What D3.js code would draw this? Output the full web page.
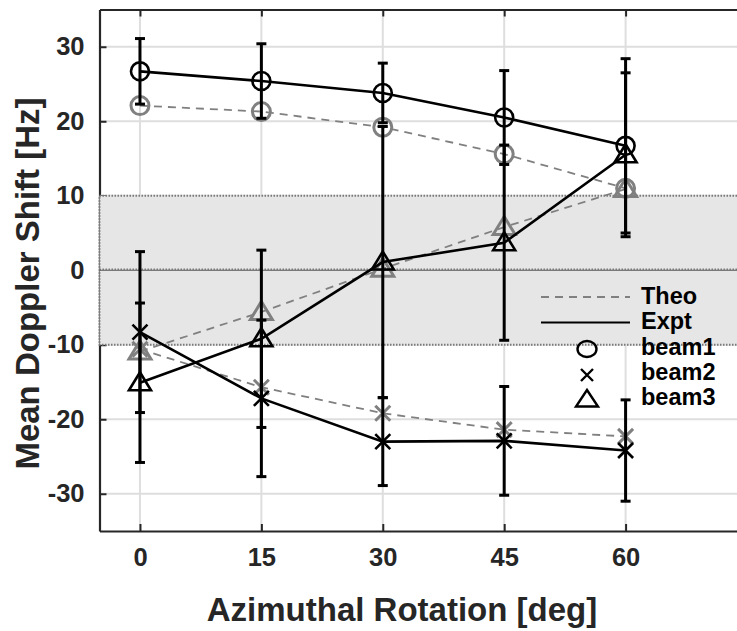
<!DOCTYPE html>
<html><head><meta charset="utf-8">
<script src="https://cdn.jsdelivr.net/npm/d3@7"></script>
<style>body{margin:0;background:#fff}svg{display:block}text{font-family:"Liberation Sans",Arial,Helvetica,sans-serif;font-weight:bold}</style>
</head><body>
<script>
const angles = [0, 15, 30, 45, 60];
const xTicks = [0, 15, 30, 45, 60];
const yTicks = [-30, -20, -10, 0, 10, 20, 30];
const beam1Expt = [26.7, 25.4, 23.8, 20.5, 16.7];
const beam1Err  = [4.4, 5.0, 4.0, 6.3, 11.7];
const beam2Expt = [-8.3, -17.2, -23.0, -22.9, -24.2];
const beam2Err  = [10.8, 10.5, 5.9, 7.3, 6.8];
const beam3Expt = [-15.1, -9.2, 1.1, 3.7, 15.5];
const beam3Err  = [10.7, 11.9, 18.2, 13.1, 11.0];
const beam1Theo = [22.1, 21.3, 19.2, 15.6, 11.0];
const beam2Theo = [-10.6, -15.7, -19.2, -21.4, -22.3];
const beam3Theo = [-10.9, -5.6, 0.2, 5.8, 10.9];
const bandRange = [-10, 10];
const legendLabels = ["Theo", "Expt", "beam1", "beam2", "beam3"];

const W = 737, H = 631;
const svg = d3.select("body").append("svg").attr("width", W).attr("height", H);
const x = d3.scaleLinear().domain([-5, 75]).range([99.5, 747]);
const y = d3.scaleLinear().domain([-35, 35]).range([531, 9.5]);
const axisCol = "#262626", gray = "#808080";

// gridlines
const grid = svg.append("g");
grid.selectAll(".gx").data(xTicks).join("line")
  .attr("x1", d => x(d)).attr("x2", d => x(d)).attr("y1", y(35)).attr("y2", y(-35))
  .attr("stroke", "#dedede").attr("stroke-width", 2);
grid.selectAll(".gy").data(yTicks).join("line")
  .attr("x1", x(-5)).attr("x2", x(75)).attr("y1", d => y(d)).attr("y2", d => y(d))
  .attr("stroke", "#dedede").attr("stroke-width", 2);

// axes
const fmt = d => String(d);
const yAxis = svg.append("g").attr("transform", `translate(${x(-5)},0)`)
  .call(d3.axisLeft(y).tickValues(yTicks).tickFormat(fmt).tickSizeInner(-7).tickSizeOuter(0).tickPadding(15));
const xAxis = svg.append("g").attr("transform", `translate(0,${y(-35)})`)
  .call(d3.axisBottom(x).tickValues(xTicks).tickFormat(fmt).tickSizeInner(-7).tickSizeOuter(0).tickPadding(17));
const tAxis = svg.append("g").attr("transform", `translate(0,${y(35)})`)
  .call(d3.axisTop(x).tickValues(xTicks).tickSizeInner(-7).tickSizeOuter(0).tickFormat(""));
[yAxis, xAxis, tAxis].forEach(g => {
  g.select(".domain").attr("stroke", axisCol).attr("stroke-width", 2.2);
  g.selectAll(".tick line").attr("stroke", axisCol).attr("stroke-width", 2);
  g.selectAll("text").attr("fill", axisCol).attr("font-size", 25.5)
    .attr("font-family", '"Liberation Sans",Arial,sans-serif').attr("font-weight", "bold");
});

// band
svg.append("rect").attr("x", x(-5)).attr("y", y(bandRange[1]))
  .attr("width", x(75) - x(-5)).attr("height", y(bandRange[0]) - y(bandRange[1]))
  .attr("fill", "#e6e6e6").attr("stroke", "#7a7a7a").attr("stroke-width", 2)
  .attr("stroke-dasharray", "1.5,1.5");
svg.append("line").attr("x1", x(-5)).attr("x2", x(75)).attr("y1", y(0)).attr("y2", y(0))
  .attr("stroke", "#555").attr("stroke-width", 1.2);
svg.append("line").attr("x1", x(-5)).attr("x2", x(75)).attr("y1", y(0) - 1).attr("y2", y(0) - 1)
  .attr("stroke", "#7a7a7a").attr("stroke-width", 1.5).attr("stroke-dasharray", "1.5,1.5");

// marker drawers
function circ(g, cx, cy, col, sw, rx = 9, ry = 9) {
  g.append("ellipse").attr("cx", cx).attr("cy", cy).attr("rx", rx).attr("ry", ry)
    .attr("fill", "none").attr("stroke", col).attr("stroke-width", sw);
}
function cross(g, cx, cy, col, sw, s = 7.5) {
  g.append("path").attr("d", `M${cx - s},${cy - s}L${cx + s},${cy + s}M${cx - s},${cy + s}L${cx + s},${cy - s}`)
    .attr("stroke", col).attr("stroke-width", sw).attr("fill", "none");
}
function tri(g, cx, cy, col, sw, hw = 11, up = 10.5, dn = 7.5) {
  g.append("path").attr("d", `M${cx},${cy - up}L${cx + hw},${cy + dn}L${cx - hw},${cy + dn}Z`)
    .attr("stroke", col).attr("stroke-width", sw).attr("fill", "none").attr("stroke-linejoin", "miter");
}
const markers = [circ, cross, tri];

const line = d3.line().x((d, i) => x(angles[i])).y(d => y(d));

// theoretical
const theo = [beam1Theo, beam2Theo, beam3Theo];
const gt = svg.append("g");
theo.forEach(s => gt.append("path").attr("d", line(s)).attr("fill", "none")
  .attr("stroke", gray).attr("stroke-width", 1.8).attr("stroke-dasharray", "8,6"));
theo.forEach((s, k) => s.forEach((v, i) => markers[k](gt, x(angles[i]), y(v), gray, 3)));

// experimental
const expt = [beam1Expt, beam2Expt, beam3Expt];
const errs = [beam1Err, beam2Err, beam3Err];
const ge = svg.append("g");
expt.forEach((s, k) => s.forEach((v, i) => {
  const cx = x(angles[i]), e = errs[k][i];
  ge.append("line").attr("x1", cx).attr("x2", cx).attr("y1", y(v + e)).attr("y2", y(v - e))
    .attr("stroke", "#000").attr("stroke-width", 3);
  [v + e, v - e].forEach(w => ge.append("line").attr("x1", cx - 5).attr("x2", cx + 5)
    .attr("y1", y(w)).attr("y2", y(w)).attr("stroke", "#000").attr("stroke-width", 3));
}));
expt.forEach(s => ge.append("path").attr("d", line(s)).attr("fill", "none")
  .attr("stroke", "#000").attr("stroke-width", 2.6));
expt.forEach((s, k) => s.forEach((v, i) => markers[k](ge, x(angles[i]), y(v), "#000", 2.6)));

// legend
const lg = svg.append("g");
lg.append("line").attr("x1", 541).attr("x2", 630).attr("y1", 297).attr("y2", 297)
  .attr("stroke", gray).attr("stroke-width", 1.8).attr("stroke-dasharray", "8,6");
lg.append("line").attr("x1", 541).attr("x2", 630).attr("y1", 322.5).attr("y2", 322.5)
  .attr("stroke", "#000").attr("stroke-width", 2.2);
circ(lg, 587, 349, "#000", 2.4, 9.5, 8);
cross(lg, 587, 375, "#000", 2.4, 6);
tri(lg, 587, 399, "#000", 2.4, 11, 9, 7.5);
lg.selectAll("text").data(legendLabels).join("text")
  .attr("x", 641).attr("y", (d, i) => 304 + i * 25.3)
  .attr("font-size", 23.5).attr("fill", "#000").text(d => d);

// axis labels
svg.append("text").attr("x", 402).attr("y", 621).attr("text-anchor", "middle")
  .attr("font-size", 33).attr("fill", axisCol).text("Azimuthal Rotation [deg]");
svg.append("text").attr("transform", "translate(39,283.5) rotate(-90)").attr("text-anchor", "middle")
  .attr("font-size", 33).attr("fill", axisCol).text("Mean Doppler Shift [Hz]");
</script>
</body></html>
